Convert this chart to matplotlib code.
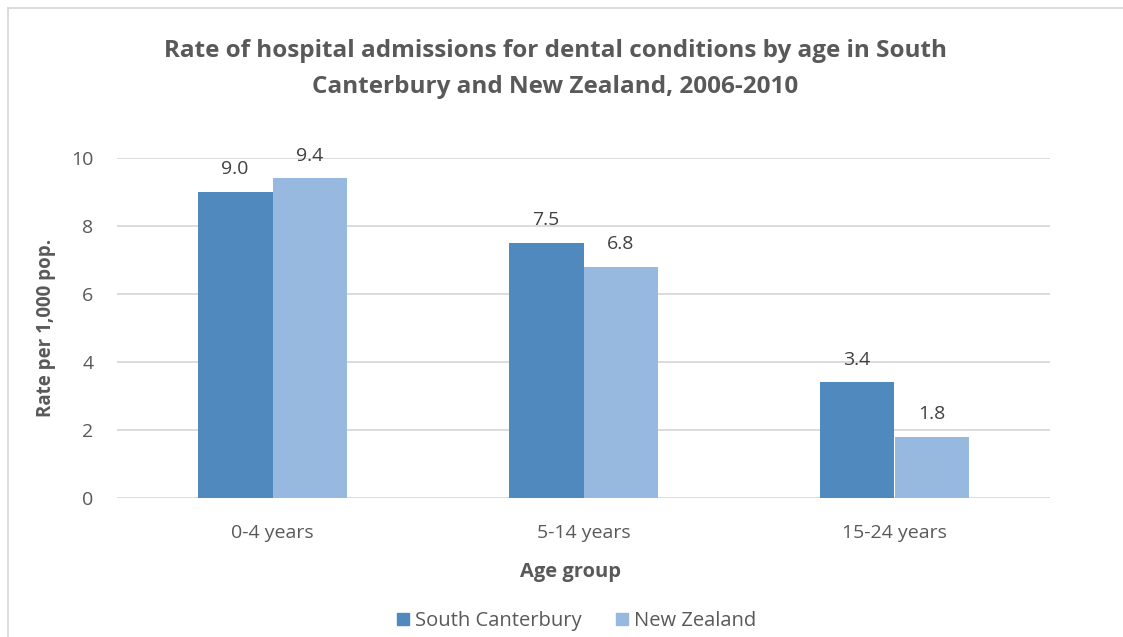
import matplotlib
matplotlib.use("Agg")
import matplotlib.pyplot as plt
from matplotlib.lines import Line2D
import numpy as np

plt.rcParams['font.family'] = ['Open Sans', 'DejaVu Sans']

categories = ["0-4 years", "5-14 years", "15-24 years"]
south_canterbury = [9.0, 7.5, 3.4]
new_zealand = [9.4, 6.8, 1.8]
series_names = ["South Canterbury", "New Zealand"]
y_ticks = [0, 2, 4, 6, 8, 10]

TEXT = "#595959"
GRID = "#D9D9D9"
C_SC = "#4F89BD"
C_NZ = "#97B9E0"

W, H = 1123, 637
fig = plt.figure(figsize=(W / 100, H / 100), dpi=100)

# plot area in pixels: x 117..1050, y 158 (10) .. 498 (0)
left, right, top, bottom = 117, 1050, 158, 498
ax = fig.add_axes([left / W, 1 - bottom / H, (right - left) / W, (bottom - top) / H])

x = np.arange(len(categories))
bw = 0.24
ax.bar(x - bw / 2, south_canterbury, bw, color=C_SC, zorder=3)
ax.bar(x + bw / 2, new_zealand, bw, color=C_NZ, zorder=3)

for xi, v in zip(x, south_canterbury):
    ax.text(xi - bw / 2, v + 0.4, f"{v:.1f}", ha="center", va="bottom",
            fontsize=14, color="#404040")
for xi, v in zip(x, new_zealand):
    ax.text(xi + bw / 2, v + 0.4, f"{v:.1f}", ha="center", va="bottom",
            fontsize=14, color="#404040")

ax.set_xlim(-0.5, len(categories) - 0.5)
ax.set_ylim(0, 10)
ax.set_yticks(y_ticks)
ax.set_yticklabels([str(t) for t in y_ticks])
ax.set_xticks(x)
ax.set_xticklabels(categories)
ax.tick_params(axis="both", length=0, labelsize=14, colors=TEXT)
ax.tick_params(axis="y", pad=17)
ax.tick_params(axis="x", pad=19)
ax.yaxis.grid(True, color=GRID, linewidth=1.3, zorder=0)
for s in ax.spines.values():
    s.set_visible(False)

fig.text(555 / W, 1 - 69 / H,
         "Rate of hospital admissions for dental conditions by age in South\nCanterbury and New Zealand, 2006-2010",
         ha="center", va="center", fontsize=17.5, fontweight="bold", color=TEXT,
         linespacing=1.68)
fig.text(46 / W, 1 - 328 / H, "Rate per 1,000 pop.", rotation=90,
         ha="center", va="center", fontsize=13.5, fontweight="bold", color=TEXT)
fig.text(570 / W, 1 - 572 / H, "Age group", ha="center", va="center",
         fontsize=14.5, fontweight="bold", color=TEXT)

handles = [Line2D([], [], marker="s", linestyle="none", markersize=9,
                  markerfacecolor=c, markeredgecolor=c) for c in (C_SC, C_NZ)]
fig.legend(handles, series_names, loc="center", bbox_to_anchor=(576 / W, 1 - 621 / H),
           ncol=2, frameon=False, fontsize=14.5, labelcolor=TEXT,
           handletextpad=0.2, columnspacing=1.6, handlelength=0.8)

# outer frame (left and top edges)
fig.add_artist(Line2D([7.5 / W, 7.5 / W], [0, 1 - 8 / H], transform=fig.transFigure,
                      color="#D9D9D9", linewidth=1.3))
fig.add_artist(Line2D([7.5 / W, 1], [1 - 8 / H, 1 - 8 / H], transform=fig.transFigure,
                      color="#D9D9D9", linewidth=1.3))

fig.savefig("out.png", dpi=100, facecolor="white")
